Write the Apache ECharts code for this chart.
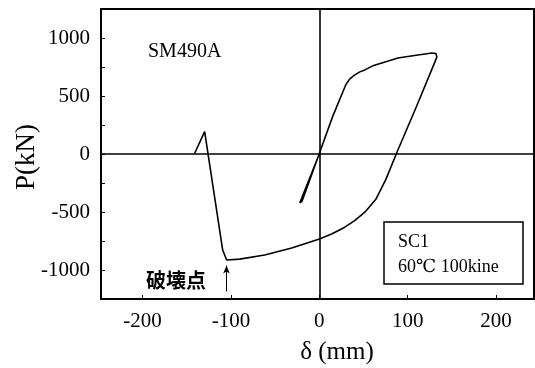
<!DOCTYPE html>
<html lang="ja">
<head>
  <meta charset="UTF-8">
  <script src="https://cdn.jsdelivr.net/npm/echarts@6/dist/echarts.min.js"></script>
  <style>
    html, body { margin: 0; padding: 0; background: #fff; }
    #container { width: 535px; height: 368px; }
  </style>
</head>
<body>
  <div id="container"></div>
  <script>
    // 荷重-変位履歴 (δ mm, P kN)
    var loopPts = [
      [0, 0], [-22, -420], [-19.5, -408], [2, 45],
      [15, 320], [30, 597], [34.6, 648], [40.2, 682], [45.9, 708], [51.6, 725],
      [60.6, 760], [70.8, 785], [89, 828], [111.6, 854], [127.5, 871],
      [132, 867], [133.1, 837], [130.9, 794],
      [110, 410], [87.8, 13], [75.4, -219], [64, -391], [51.6, -502],
      [40, -575], [28.9, -631], [14, -690], [-0.6, -734], [-31.2, -811],
      [-61.8, -871], [-90, -906], [-104.8, -914], [-109.3, -828],
      [-129.7, 193], [-141.1, 4]
    ];
    var xLabels = [-200, -100, 0, 100, 200];
    var yLabels = [-1000, -500, 0, 500, 1000];
    var yTicks = [-1000, -750, -500, -250, 0, 250, 500, 750, 1000];
    var arrowPts = [[-105, -1185], [-105, -962]];

    var myChart = echarts.init(document.getElementById('container'));
    var serif = '"Liberation Serif", "DejaVu Serif", serif';
    var plain = function (v) { return String(v); };

    var option = {
      animation: false,
      grid: {
        left: 101, right: 1, top: 9, bottom: 69,
        show: true, borderColor: '#000', borderWidth: 2
      },
      xAxis: {
        type: 'value', min: -247, max: 243,
        axisLine: { show: false, onZero: false },
        axisTick: { show: true, inside: true, length: 4, customValues: xLabels, lineStyle: { color: '#000' } },
        axisLabel: { customValues: xLabels, formatter: plain, color: '#000', fontFamily: serif, fontSize: 21, margin: 12 },
        splitLine: { show: false }
      },
      yAxis: {
        type: 'value', min: -1250, max: 1250,
        axisLine: { show: false, onZero: false },
        axisTick: { show: true, inside: true, length: 4, customValues: yTicks, lineStyle: { color: '#000' } },
        axisLabel: { customValues: yLabels, formatter: plain, color: '#000', fontFamily: serif, fontSize: 21, margin: 11 },
        splitLine: { show: false }
      },
      series: [
        {
          type: 'line',
          data: loopPts,
          showSymbol: false,
          smooth: false,
          lineStyle: { color: '#000', width: 1.6 },
          markLine: {
            silent: true,
            symbol: 'none',
            label: { show: false },
            lineStyle: { color: '#000', width: 1.6, type: 'solid' },
            data: [{ yAxis: 0 }, { xAxis: 0 }]
          }
        },
        {
          // 破壊点の矢印
          type: 'line',
          data: [],
          markLine: {
            silent: true,
            symbol: ['none', 'arrow'],
            symbolSize: [5, 8],
            label: { show: false },
            lineStyle: { color: '#000', width: 1, type: 'solid' },
            data: [[{ coord: arrowPts[0] }, { coord: arrowPts[1] }]]
          }
        }
      ],
      graphic: [
        {
          type: 'text', x: 27, y: 157, rotation: Math.PI / 2,
          style: { text: 'P(kN)', font: '27px ' + serif, fill: '#000', align: 'center', verticalAlign: 'middle' }
        },
        {
          type: 'text', x: 337, y: 352,
          style: { text: 'δ (mm)', font: '25px ' + serif, fill: '#000', align: 'center', verticalAlign: 'middle' }
        },
        {
          type: 'text', x: 148, y: 52,
          style: { text: 'SM490A', font: '20px ' + serif, fill: '#000', align: 'left', verticalAlign: 'middle' }
        },
        {
          type: 'text', x: 176, y: 280,
          style: { text: '破壊点', font: 'bold 20px "Noto Sans CJK JP"', fill: '#000', align: 'center', verticalAlign: 'middle' }
        },
        {
          type: 'rect', shape: { x: 384, y: 222, width: 139, height: 62 },
          style: { fill: '#fff', stroke: '#000', lineWidth: 1.5 }
        },
        {
          type: 'text', x: 398, y: 242,
          style: { text: 'SC1', font: '18px ' + serif, fill: '#000', align: 'left', verticalAlign: 'middle' }
        },
        {
          type: 'text', x: 398, y: 267,
          style: { text: '60℃ 100kine', font: '18px ' + serif, fill: '#000', align: 'left', verticalAlign: 'middle' }
        }
      ]
    };
    myChart.setOption(option);
  </script>
</body>
</html>
